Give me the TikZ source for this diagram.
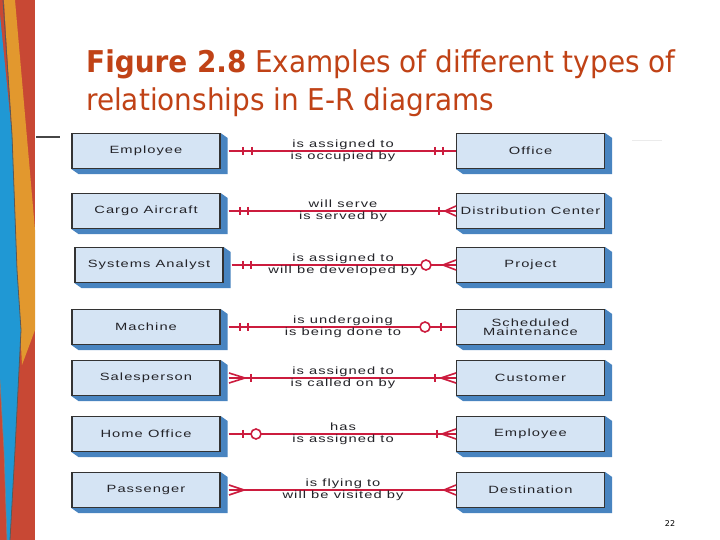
\documentclass[tikz,border=0pt]{standalone}
\usepackage{fontspec}
\setmainfont{Liberation Sans}
\newfontfamily\titlefont[FakeStretch=0.93]{DejaVu Sans}
\newfontfamily\pagefont{DejaVu Sans}
\newfontfamily\erfont[FakeStretch=1.4,LetterSpace=10]{Liberation Sans}
\usetikzlibrary{calc,backgrounds}
\definecolor{titlered}{RGB}{192,66,22}
\definecolor{boxfill}{RGB}{213,228,244}
\definecolor{boxshadow}{RGB}{72,132,192}
\definecolor{relred}{RGB}{204,28,62}
\definecolor{txtgray}{RGB}{35,35,40}
\definecolor{stripred}{RGB}{200,72,52}
\definecolor{stripblue}{RGB}{32,152,212}
\definecolor{striporange}{RGB}{226,152,46}
\definecolor{ulgray}{RGB}{70,70,70}
\definecolor{ulfaint}{RGB}{235,235,235}
\tikzset{
  erbox/.style={draw=black!80, line width=1.1pt, fill=boxfill,
    minimum width=148pt, minimum height=35pt, inner sep=0pt,
    font=\erfont\fontsize{10.5}{9.5}\selectfont, text=txtgray, align=center},
  rel/.style={draw=relred, line width=1.6pt},
  barline/.style={draw=relred, line width=2.6pt},
  ocirc/.style={draw=relred, line width=1.6pt, fill=white},
  lbl/.style={font=\erfont\fontsize{10.5}{10.5}\selectfont, text=txtgray,
    inner sep=0pt, anchor=base},
  titletext/.style={font=\titlefont\fontsize{30}{36}\selectfont, text=titlered,
    inner sep=0pt, anchor=base west}
}
\newcommand\erentity[4]{%
  \node[erbox] (#1) at (#2,#3) {#4};
  \begin{pgfonlayer}{background}
    \fill[boxshadow] (#1.north east) -- ++(7,5) -- ($(#1.south east)+(7,5)$)
      -- ($(#1.south west)+(7,5)$) -- (#1.south west) -- (#1.south east) -- cycle;
  \end{pgfonlayer}}
\newcommand\erBar[2]{\draw[barline] (#1,#2-4.2) -- (#1,#2+4.2);}
\newcommand\erCirc[2]{\draw[ocirc] (#1,#2) circle[radius=5pt];}
\newcommand\erCrow[3]{\draw[rel] (#1,#3) -- (#2,#3-5) (#1,#3) -- (#2,#3+5);}
\newcommand\erLabels[4]{%
  \node[lbl] (#1up) at (343,#2-3.2) {#3};
  \node[lbl] (#1dn) at (343,#2+8.6) {#4};}
\begin{document}
\begin{tikzpicture}[x=1pt,y=-1pt]
\useasboundingbox (0,0) rectangle (720,540);
\begin{pgfonlayer}{background}
\fill[white] (0,0) rectangle (720,540);
% decorative stripe
\fill[stripred] (0,0) rectangle (35,540);
\fill[striporange] (4,0) -- (15,0) -- (35,230) -- (35,330) -- (22,365) -- (17,270) -- (12,135) -- cycle;
\fill[stripblue] (0,15) -- (12,135) -- (17,270) -- (21,330) -- (15,450) -- (10,540) -- (7,540) -- (4,450) -- (0,380) -- cycle;
\draw[black!65, line width=0.8pt] (3,0) -- (12,135) -- (17,270) -- (21,330) -- (15,450) -- (10,540);
\draw[black!50, line width=0.6pt] (0,380) -- (4,450) -- (7,540);
\end{pgfonlayer}
% title
\node[titletext] (t1) at (86,73) {\textbf{Figure 2.8} Examples of different types of};
\node[titletext] (t2) at (86,111) {relationships in E-R diagrams};
\draw[ulgray, line width=1.6pt] (36,137) -- (60,137);
\draw[ulfaint, line width=1pt] (632,141) -- (662,141);
% entities
\erentity{e1}{146}{151}{Employee}
\erentity{f1}{530.5}{151}{Office}
\erentity{e2}{146}{211}{Cargo Aircraft}
\erentity{f2}{530.5}{211}{Distribution Center}
\erentity{e3}{149}{265}{Systems Analyst}
\erentity{f3}{530.5}{265}{Project}
\erentity{e4}{146}{327}{Machine}
\erentity{f4}{530.5}{327}{Scheduled\\Maintenance}
\erentity{e5}{146}{378}{Salesperson}
\erentity{f5}{530.5}{378}{Customer}
\erentity{e6}{146}{434}{Home Office}
\erentity{f6}{530.5}{434}{Employee}
\erentity{e7}{146}{490}{Passenger}
\erentity{f7}{530.5}{490}{Destination}
% connectors
\foreach \i in {1,...,7} {\draw[rel, shorten <=8pt] (e\i.east) -- (f\i.west);}
% row 1
\erBar{243}{151}\erBar{252}{151}\erBar{435}{151}\erBar{443}{151}
% row 2
\erBar{240}{211}\erBar{248}{211}\erBar{439}{211}\erCrow{445}{456}{211}
% row 3
\erBar{243}{265}\erBar{251}{265}\erCirc{426}{265}\erCrow{443}{456}{265}
% row 4
\erBar{240}{327}\erBar{248}{327}\erCirc{425}{327}\erBar{441}{327}
% row 5
\erCrow{245}{229}{378}\erBar{251}{378}\erBar{435}{378}\erCrow{441}{456}{378}
% row 6
\erBar{243}{434}\erCirc{256}{434}\erBar{437}{434}\erCrow{442}{456}{434}
% row 7
\erCrow{244}{229}{490}\erCrow{444}{456}{490}
% labels
\erLabels{r1}{151}{is assigned to}{is occupied by}
\erLabels{r2}{211}{will serve}{is served by}
\erLabels{r3}{265}{is assigned to}{will be developed by}
\erLabels{r4}{327}{is undergoing}{is being done to}
\erLabels{r5}{378}{is assigned to}{is called on by}
\erLabels{r6}{434}{has}{is assigned to}
\erLabels{r7}{490}{is flying to}{will be visited by}
% page number
\node[font=\pagefont\fontsize{8}{8}\selectfont, inner sep=0pt] (pg) at (670,524) {22};
\end{tikzpicture}
\end{document}
